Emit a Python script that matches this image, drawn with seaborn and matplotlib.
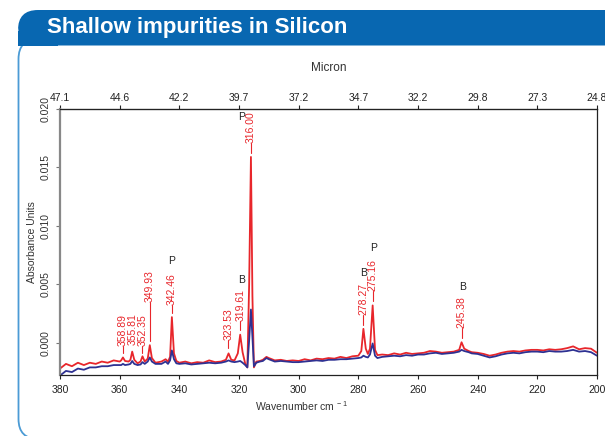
import matplotlib
matplotlib.use("Agg")
import matplotlib.pyplot as plt
from matplotlib.patches import FancyBboxPatch, Rectangle
import pandas as pd
import seaborn as sns

# spectrum samples (wavenumber in cm-1, absorbance in milli-units)
wavenumber = [
    380, 378, 376, 374, 372, 370, 368, 366, 364, 362,
    360, 359.5, 358.9, 358.2, 357, 356.4, 355.8, 355.1, 354, 353,
    352.35, 351.6, 350.6, 349.9, 349.2, 348, 346, 344.6, 343.8, 343.1,
    342.5, 341.8, 341, 340, 338, 336, 334, 332, 330, 328,
    326, 324.4, 323.5, 322.6, 321.5, 320.4, 319.6, 318.8, 317.9, 317.2,
    316.6, 316.0, 315.5, 315.0, 314.2, 313, 312, 310.8, 310, 308,
    306, 304, 302, 300, 298, 296, 294, 292, 290, 288,
    286, 284, 282, 280, 279, 278.3, 277.5, 276.8, 276.1, 275.2,
    274.4, 273.6, 272, 270, 268, 266, 264, 262, 260, 258,
    256, 254, 252, 250, 248, 246.2, 245.4, 244.5, 243, 242,
    240, 238, 236, 234, 232, 230, 228, 226, 224, 222,
    220, 218, 216, 214, 212, 210, 208, 206, 204, 202,
    200,
]
doped_mau = [
    -2.2, -1.8, -2.0, -1.7, -1.9, -1.7, -1.8, -1.6, -1.7, -1.5,
    -1.6, -1.5, -1.25, -1.55, -1.6, -1.45, -0.75, -1.45, -1.75, -1.6,
    -1.15, -1.6, -1.35, -0.2, -1.3, -1.7, -1.6, -1.4, -1.6, -1.2,
    2.2, -0.9, -1.55, -1.7, -1.6, -1.75, -1.65, -1.7, -1.5, -1.65,
    -1.6, -1.45, -0.9, -1.45, -1.5, -0.9, 0.7, -0.8, -1.8, -2.1,
    5.0, 15.9, 4.0, -2.1, -1.6, -1.55, -1.45, -1.2, -1.3, -1.5,
    -1.45, -1.55, -1.5, -1.55, -1.4, -1.5, -1.35, -1.4, -1.3, -1.35,
    -1.2, -1.3, -1.15, -1.1, -0.7, 1.2, -0.5, -0.95, -0.5, 3.2,
    -0.6, -1.05, -1.0, -1.05, -0.9, -1.0, -0.85, -0.95, -0.9, -0.85,
    -0.7, -0.75, -0.85, -0.8, -0.75, -0.6, 0.05, -0.5, -0.7, -0.8,
    -0.85, -0.95, -1.1, -1.0, -0.85, -0.75, -0.7, -0.75, -0.65, -0.6,
    -0.6, -0.65, -0.55, -0.6, -0.55, -0.45, -0.3, -0.55, -0.45, -0.5,
    -0.85,
]
reference_mau = [
    -2.8, -2.4, -2.5, -2.2, -2.3, -2.1, -2.1, -2.0, -2.0, -1.9,
    -1.9, -1.9, -1.8, -1.9, -1.85, -1.8, -1.55, -1.8, -1.9, -1.85,
    -1.65, -1.8, -1.6, -1.25, -1.6, -1.8, -1.8, -1.6, -1.8, -1.5,
    -0.65, -1.4, -1.75, -1.8, -1.75, -1.85, -1.8, -1.75, -1.7, -1.75,
    -1.7, -1.6, -1.5, -1.6, -1.65, -1.6, -1.55, -1.7, -1.9, -2.1,
    0.2, 2.85, 0.5, -2.0, -1.7, -1.6, -1.55, -1.3, -1.4, -1.6,
    -1.55, -1.6, -1.65, -1.65, -1.6, -1.55, -1.5, -1.55, -1.45, -1.45,
    -1.4, -1.4, -1.35, -1.3, -1.25, -1.1, -1.2, -1.25, -1.0, -0.05,
    -1.1, -1.3, -1.2, -1.15, -1.1, -1.15, -1.05, -1.1, -1.0, -1.0,
    -0.9, -0.85, -0.95, -0.9, -0.85, -0.75, -0.6, -0.7, -0.8, -0.9,
    -0.95, -1.1, -1.25, -1.15, -1.0, -0.9, -0.85, -0.9, -0.8, -0.75,
    -0.75, -0.8, -0.7, -0.75, -0.75, -0.7, -0.6, -0.75, -0.7, -0.8,
    -1.1,
]

# peak annotations
peak_wn = [358.89, 355.81, 352.35, 349.93, 342.46, 323.53, 319.61, 316.00, 278.27, 275.16, 245.38]
peak_text = ["358.89", "355.81", "352.35", "349.93", "342.46", "323.53", "319.61", "316.00",
             "278.27", "275.16", "245.38"]
# leader line ends (milli-units); None = no leader
leader_lo = [-0.86, None, -0.86, 0.17, 2.59, -0.46, 1.12, 16.2, 1.55, 3.56, 0.43]
leader_hi = [-0.26, -0.17, -0.26, 3.53, 3.27, 0.26, 1.84, 17.07, 2.41, 4.42, 1.29]

element_wn = [342.45, 319.3, 319.3, 278.3, 275.0, 245.1]
element_mau = [7.0, 5.37, 19.3, 6.0, 8.08, 4.8]
element_text = ["P", "B", "P", "B", "P", "B"]

tick_wn = [380, 360, 340, 320, 300, 280, 260, 240, 220, 200]
micron_labels = ["47.1", "44.6", "42.2", "39.7", "37.2", "34.7", "32.2", "29.8", "27.3", "24.8"]

RED = "#e8262b"
BLUE = "#2e3192"
HEADER = "#0867b1"

sns.set_style("ticks")
plt.rcParams["font.family"] = ["Liberation Sans", "DejaVu Sans"]
plt.rcParams["mathtext.fontset"] = "custom"
plt.rcParams["mathtext.rm"] = "Liberation Sans"
plt.rcParams["mathtext.it"] = "Liberation Sans"

df = pd.DataFrame({
    "wavenumber": wavenumber * 2,
    "absorbance": [v / 1000 for v in doped_mau] + [v / 1000 for v in reference_mau],
    "sample": ["doped"] * len(wavenumber) + ["reference"] * len(wavenumber),
})

fig = plt.figure(figsize=(6.05, 4.36), dpi=100)

# header band and card border
fig.patches.append(FancyBboxPatch((0.18, 3.905), 6.2, 0.355, boxstyle="round,pad=0,rounding_size=0.2",
                                  transform=fig.dpi_scale_trans, fc=HEADER, ec="none", zorder=2))
fig.patches.append(Rectangle((0.18, 3.905), 0.4, 0.15, transform=fig.dpi_scale_trans,
                             fc=HEADER, ec="none", zorder=2))
fig.patches.append(FancyBboxPatch((0.185, -0.03), 7.0, 4.0, boxstyle="round,pad=0,rounding_size=0.2",
                                  transform=fig.dpi_scale_trans, fc="none", ec="#4b9bd5",
                                  lw=1.3, zorder=1))
fig.text(47 / 605, 1 - 33 / 436, "Shallow impurities in Silicon", color="white",
         fontsize=16, fontweight="bold", ha="left", va="baseline", zorder=3)

ax = fig.add_axes([60 / 605, 61 / 436, 537 / 605, 266 / 436])
sns.lineplot(data=df, x="wavenumber", y="absorbance", hue="sample", hue_order=["doped", "reference"],
             palette={"doped": RED, "reference": BLUE}, estimator=None, sort=False,
             legend=False, lw=1.3, ax=ax)

ax.set_xlim(380, 200)
ax.set_ylim(-0.00275, 0.020)
ax.set_xticks(tick_wn)
ax.set_yticks([0.0, 0.005, 0.010, 0.015, 0.020])
ax.set_yticklabels(["0.000", "0.005", "0.010", "0.015", "0.020"])
plt.setp(ax.get_yticklabels(), rotation=90, va="center")
ax.tick_params(axis="both", labelsize=7.5, length=3, width=0.8, colors="#222222", pad=4)
ax.tick_params(axis="y", colors="#777777", labelcolor="#333333")
ax.set_xlabel(r"Wavenumber cm$^{\ -1}$", fontsize=7.5, color="#333333")
ax.xaxis.set_label_coords(0.45, -0.09)
ax.set_ylabel("Absorbance Units", fontsize=7.5, color="#333333")
ax.yaxis.set_label_coords(-0.043, 0.5)
for side in ["top", "right", "bottom"]:
    ax.spines[side].set_color("#222222")
    ax.spines[side].set_linewidth(0.9)
ax.spines["left"].set_color("#888888")
ax.spines["left"].set_linewidth(1.6)

top = ax.secondary_xaxis("top")
top.set_xticks(tick_wn, labels=micron_labels)
top.tick_params(labelsize=7.5, length=3, width=0.8, colors="#222222", pad=1)
top.set_xlabel("Micron", fontsize=8.5, color="#333333", labelpad=16)
top.spines["top"].set_color("#222222")

for wn, txt, lo, hi in zip(peak_wn, peak_text, leader_lo, leader_hi):
    if lo is not None:
        ax.plot([wn, wn], [lo / 1000, hi / 1000], color=RED, lw=0.8)
    ax.text(wn, hi / 1000, txt, rotation=90, ha="center", va="bottom", color=RED, fontsize=7.5)

for wn, v, txt in zip(element_wn, element_mau, element_text):
    ax.text(wn, v / 1000, txt, ha="center", va="center", color="#222222", fontsize=7.5)

fig.savefig("out.png", dpi=100)
